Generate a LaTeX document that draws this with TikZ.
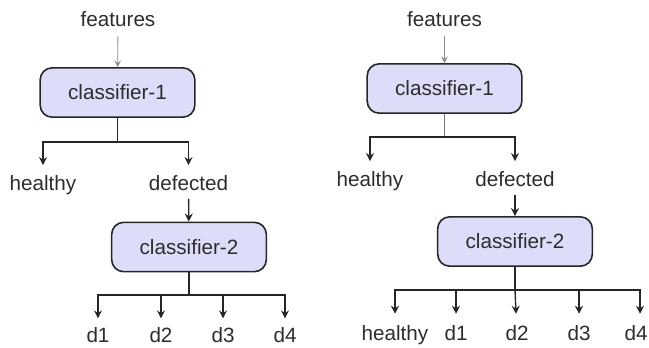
\documentclass[tikz,border=0pt]{standalone}
\usepackage{fontspec}
\setmainfont{Liberation Sans}
\usetikzlibrary{arrows.meta}
\definecolor{boxfill}{RGB}{221,221,250}
\definecolor{inktext}{RGB}{45,45,45}
\begin{document}
\begin{tikzpicture}[x=0.75pt,y=0.75pt,yscale=-1,xscale=1,
		cls/.style={draw=black!85,line width=1.2pt,fill=boxfill,rounded corners=9pt,minimum width=116pt,minimum height=37pt,text=inktext,font=\fontsize{15.5}{18}\selectfont},
		lbl/.style={text=inktext,font=\fontsize{15.5}{18}\selectfont,text height=11.5pt,text depth=3.5pt,inner sep=3pt},
		link/.style={draw=black!85,line width=1pt},
		tip/.style={link,-{Stealth[length=6pt,width=6pt,inset=2pt]},shorten >=4pt},
		feed/.style={draw=black!45,line width=0.6pt,-{Stealth[length=5pt,width=5pt,inset=2pt]},shorten <=1pt}]
		\useasboundingbox (0,0) rectangle (649,347);
		% two-stage scheme
		\node (featL) [lbl,anchor=base] at (118,26) {features};
		\node (clsL1) [cls] at (117.5,92.5) {classifier-1};
		\coordinate (jL1) at (117.5,142);
		\node (healthyL) [lbl,anchor=base] at (43,190) {healthy};
		\node (defectL) [lbl,anchor=base] at (188.5,190) {defected};
		\node (clsL2) [cls] at (189,247) {classifier-2};
		\coordinate (jL2) at (189,295);
		\node (dL1) [lbl,anchor=base] at (98,342) {d1};
		\node (dL2) [lbl,anchor=base] at (161,342) {d2};
		\node (dL3) [lbl,anchor=base] at (223,342) {d3};
		\node (dL4) [lbl,anchor=base] at (285,342) {d4};
		\draw [feed] (featL) -- (clsL1);
		\draw [link] (clsL1) -- (jL1);
		\draw [tip] (jL1) -| (healthyL);
		\draw [tip] (jL1) -| (defectL);
		\draw [tip,shorten >=0pt] (defectL) -- (clsL2);
		\draw [link] (clsL2) -- (jL2);
		\draw [tip,shorten >=3pt] (jL2) -| (dL1);
		\draw [tip,shorten >=3pt] (jL2) -| (dL2);
		\draw [tip,shorten >=3pt] (jL2) -| (dL3);
		\draw [tip,shorten >=3pt] (jL2) -| (dL4);
		% single scheme with healthy as a fifth class
		\node (featR) [lbl,anchor=base] at (444.5,26) {features};
		\node (clsR1) [cls] at (444.5,88.5) {classifier-1};
		\coordinate (jR1) at (444.5,137);
		\node (healthyR) [lbl,anchor=base] at (370,186) {healthy};
		\node (defectR) [lbl,anchor=base] at (515,186) {defected};
		\node (clsR2) [cls] at (515,241.5) {classifier-2};
		\coordinate (jR2) at (515,290);
		\node (healthyR2) [lbl,anchor=base] at (395,340) {healthy};
		\node (dR1) [lbl,anchor=base] at (456,340) {d1};
		\node (dR2) [lbl,anchor=base] at (517,340) {d2};
		\node (dR3) [lbl,anchor=base] at (579,340) {d3};
		\node (dR4) [lbl,anchor=base] at (636,340) {d4};
		\draw [feed] (featR) -- (clsR1);
		\draw [link,draw=black!55] (clsR1) -- (jR1);
		\draw [tip] (jR1) -| (healthyR);
		\draw [tip] (jR1) -| (defectR);
		\draw [tip,shorten >=0pt] (defectR) -- (clsR2);
		\draw [link] (clsR2) -- (jR2);
		\draw [tip,shorten >=5pt] (jR2) -| (healthyR2);
		\draw [tip,shorten >=5pt] (jR2) -| (dR1);
		\draw [tip,shorten >=5pt] (jR2) -- (dR2);
		\draw [tip,shorten >=5pt] (jR2) -| (dR3);
		\draw [tip,shorten >=5pt] (jR2) -| ([xshift=3pt]dR4.north);
\end{tikzpicture}
\end{document}
